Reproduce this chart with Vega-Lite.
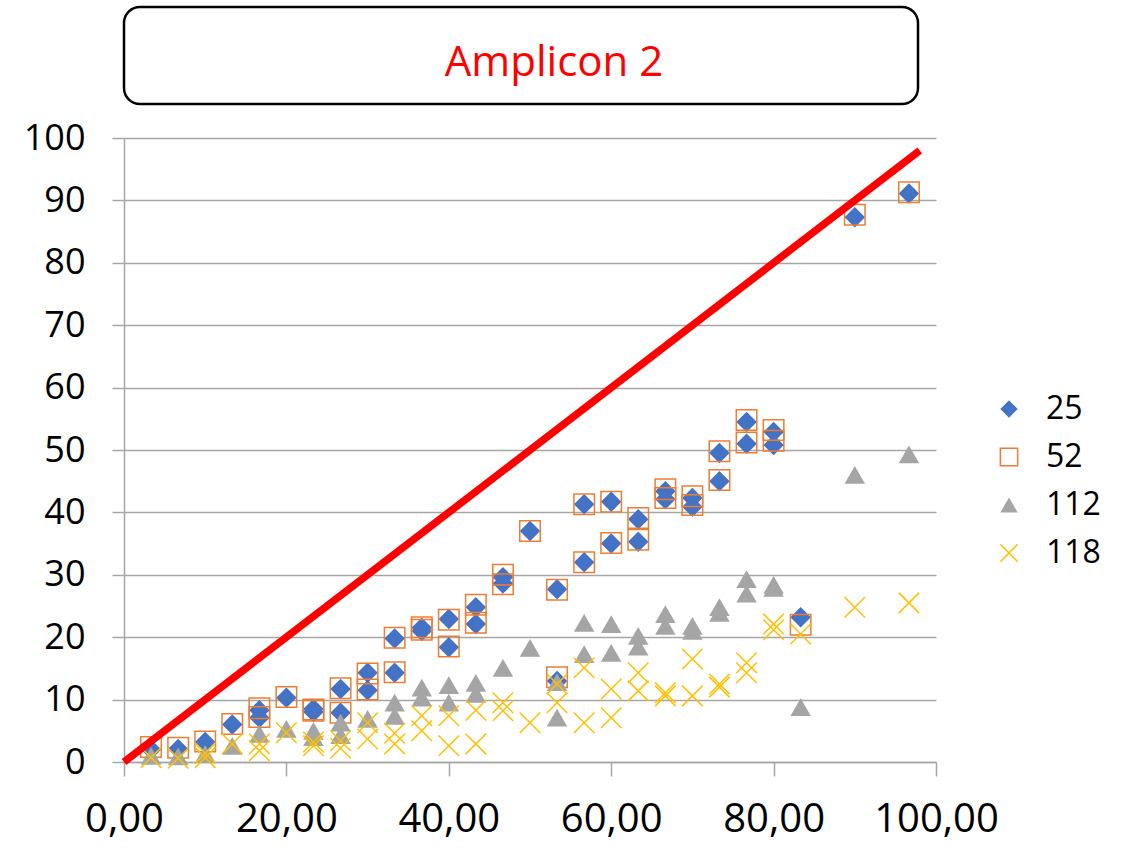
{
  "$schema": "https://vega.github.io/schema/vega-lite/v6.json",
  "padding": {"left": 23, "top": 5, "right": 0, "bottom": 10},
  "background": "white",
  "bounds": "flush",
  "spacing": 34,
  "datasets": {
    "heading": [{"label": "Amplicon 2"}],
    "ref": [{"x": 0, "y": 0}, {"x": 98, "y": 98}],
    "points": [
      {"s": "25", "x": 3.33, "y": 2.0}, {"s": "25", "x": 6.67, "y": 2.1}, {"s": "25", "x": 10, "y": 3.2},
      {"s": "25", "x": 13.33, "y": 6.0}, {"s": "25", "x": 16.67, "y": 8.3}, {"s": "25", "x": 16.67, "y": 7.1},
      {"s": "25", "x": 20, "y": 10.3}, {"s": "25", "x": 23.33, "y": 8.5}, {"s": "25", "x": 23.33, "y": 8.0},
      {"s": "25", "x": 26.67, "y": 11.7}, {"s": "25", "x": 26.67, "y": 7.9}, {"s": "25", "x": 30, "y": 14.3},
      {"s": "25", "x": 30, "y": 11.5}, {"s": "25", "x": 33.33, "y": 19.8}, {"s": "25", "x": 33.33, "y": 14.3},
      {"s": "25", "x": 36.67, "y": 21.5}, {"s": "25", "x": 36.67, "y": 21.0}, {"s": "25", "x": 40, "y": 22.9},
      {"s": "25", "x": 40, "y": 18.4}, {"s": "25", "x": 43.33, "y": 24.8}, {"s": "25", "x": 43.33, "y": 22.1},
      {"s": "25", "x": 46.67, "y": 29.6}, {"s": "25", "x": 46.67, "y": 28.6}, {"s": "25", "x": 50, "y": 37.0},
      {"s": "25", "x": 53.33, "y": 27.7}, {"s": "25", "x": 53.33, "y": 13.0}, {"s": "25", "x": 56.67, "y": 41.3},
      {"s": "25", "x": 56.67, "y": 32.0}, {"s": "25", "x": 60, "y": 41.7}, {"s": "25", "x": 60, "y": 35.0},
      {"s": "25", "x": 63.33, "y": 38.9}, {"s": "25", "x": 63.33, "y": 35.3}, {"s": "25", "x": 66.67, "y": 43.4},
      {"s": "25", "x": 66.67, "y": 42.1}, {"s": "25", "x": 70, "y": 42.3}, {"s": "25", "x": 70, "y": 40.9},
      {"s": "25", "x": 73.33, "y": 49.5}, {"s": "25", "x": 73.33, "y": 45.0}, {"s": "25", "x": 76.67, "y": 54.5},
      {"s": "25", "x": 76.67, "y": 51.0}, {"s": "25", "x": 80, "y": 52.9}, {"s": "25", "x": 80, "y": 50.8},
      {"s": "25", "x": 83.33, "y": 23.2}, {"s": "25", "x": 90, "y": 87.3}, {"s": "25", "x": 96.67, "y": 91.1},

      {"s": "52", "x": 3.33, "y": 2.4}, {"s": "52", "x": 6.67, "y": 2.3}, {"s": "52", "x": 10, "y": 3.3},
      {"s": "52", "x": 13.33, "y": 6.1}, {"s": "52", "x": 16.67, "y": 8.6}, {"s": "52", "x": 16.67, "y": 7.2},
      {"s": "52", "x": 20, "y": 10.4}, {"s": "52", "x": 23.33, "y": 8.4}, {"s": "52", "x": 23.33, "y": 8.2},
      {"s": "52", "x": 26.67, "y": 11.8}, {"s": "52", "x": 26.67, "y": 7.9}, {"s": "52", "x": 30, "y": 14.2},
      {"s": "52", "x": 30, "y": 11.6}, {"s": "52", "x": 33.33, "y": 19.9}, {"s": "52", "x": 33.33, "y": 14.4},
      {"s": "52", "x": 36.67, "y": 21.6}, {"s": "52", "x": 36.67, "y": 21.2}, {"s": "52", "x": 40, "y": 22.8},
      {"s": "52", "x": 40, "y": 18.5}, {"s": "52", "x": 43.33, "y": 25.2}, {"s": "52", "x": 43.33, "y": 22.3},
      {"s": "52", "x": 46.67, "y": 30.0}, {"s": "52", "x": 46.67, "y": 28.5}, {"s": "52", "x": 50, "y": 37.0},
      {"s": "52", "x": 53.33, "y": 27.6}, {"s": "52", "x": 53.33, "y": 13.6}, {"s": "52", "x": 56.67, "y": 41.3},
      {"s": "52", "x": 56.67, "y": 32.0}, {"s": "52", "x": 60, "y": 41.7}, {"s": "52", "x": 60, "y": 35.1},
      {"s": "52", "x": 63.33, "y": 39.1}, {"s": "52", "x": 63.33, "y": 35.6}, {"s": "52", "x": 66.67, "y": 43.7},
      {"s": "52", "x": 66.67, "y": 42.3}, {"s": "52", "x": 70, "y": 42.6}, {"s": "52", "x": 70, "y": 41.2},
      {"s": "52", "x": 73.33, "y": 49.8}, {"s": "52", "x": 73.33, "y": 45.2}, {"s": "52", "x": 76.67, "y": 54.8},
      {"s": "52", "x": 76.67, "y": 51.2}, {"s": "52", "x": 80, "y": 53.2}, {"s": "52", "x": 80, "y": 51.5},
      {"s": "52", "x": 83.33, "y": 22.0}, {"s": "52", "x": 90, "y": 87.7}, {"s": "52", "x": 96.67, "y": 91.3},

      {"s": "112", "x": 3.33, "y": 1.0}, {"s": "112", "x": 6.67, "y": 0.9}, {"s": "112", "x": 10, "y": 1.3},
      {"s": "112", "x": 13.33, "y": 2.6}, {"s": "112", "x": 16.67, "y": 4.5}, {"s": "112", "x": 20, "y": 5.3},
      {"s": "112", "x": 23.33, "y": 5.0}, {"s": "112", "x": 23.33, "y": 4.0}, {"s": "112", "x": 26.67, "y": 6.3},
      {"s": "112", "x": 26.67, "y": 4.3}, {"s": "112", "x": 30, "y": 6.9}, {"s": "112", "x": 33.33, "y": 9.5},
      {"s": "112", "x": 33.33, "y": 7.4}, {"s": "112", "x": 36.67, "y": 11.9}, {"s": "112", "x": 36.67, "y": 10.3},
      {"s": "112", "x": 40, "y": 12.3}, {"s": "112", "x": 40, "y": 9.5}, {"s": "112", "x": 43.33, "y": 12.7},
      {"s": "112", "x": 43.33, "y": 10.9}, {"s": "112", "x": 46.67, "y": 15.1}, {"s": "112", "x": 50, "y": 18.3},
      {"s": "112", "x": 53.33, "y": 12.8}, {"s": "112", "x": 53.33, "y": 7.1}, {"s": "112", "x": 56.67, "y": 22.3},
      {"s": "112", "x": 56.67, "y": 17.3}, {"s": "112", "x": 60, "y": 22.1}, {"s": "112", "x": 60, "y": 17.5},
      {"s": "112", "x": 63.33, "y": 20.2}, {"s": "112", "x": 63.33, "y": 18.5}, {"s": "112", "x": 66.67, "y": 23.7},
      {"s": "112", "x": 66.67, "y": 21.8}, {"s": "112", "x": 70, "y": 21.8}, {"s": "112", "x": 70, "y": 21.0},
      {"s": "112", "x": 73.33, "y": 24.8}, {"s": "112", "x": 73.33, "y": 23.9}, {"s": "112", "x": 76.67, "y": 29.3},
      {"s": "112", "x": 76.67, "y": 27.0}, {"s": "112", "x": 80, "y": 28.4}, {"s": "112", "x": 80, "y": 27.9},
      {"s": "112", "x": 83.33, "y": 8.8}, {"s": "112", "x": 90, "y": 46.0}, {"s": "112", "x": 96.67, "y": 49.3},

      {"s": "118", "x": 3.33, "y": 0.7}, {"s": "118", "x": 6.67, "y": 0.6}, {"s": "118", "x": 10, "y": 1.4},
      {"s": "118", "x": 10, "y": 0.7}, {"s": "118", "x": 13.33, "y": 2.9}, {"s": "118", "x": 16.67, "y": 2.9},
      {"s": "118", "x": 16.67, "y": 1.8}, {"s": "118", "x": 20, "y": 4.7}, {"s": "118", "x": 23.33, "y": 3.2},
      {"s": "118", "x": 23.33, "y": 2.6}, {"s": "118", "x": 26.67, "y": 3.4}, {"s": "118", "x": 26.67, "y": 2.2},
      {"s": "118", "x": 30, "y": 6.3}, {"s": "118", "x": 30, "y": 3.7}, {"s": "118", "x": 33.33, "y": 4.6},
      {"s": "118", "x": 33.33, "y": 2.9}, {"s": "118", "x": 36.67, "y": 7.4}, {"s": "118", "x": 36.67, "y": 5.0},
      {"s": "118", "x": 40, "y": 7.4}, {"s": "118", "x": 40, "y": 2.6}, {"s": "118", "x": 43.33, "y": 8.3},
      {"s": "118", "x": 43.33, "y": 2.9}, {"s": "118", "x": 46.67, "y": 9.5}, {"s": "118", "x": 46.67, "y": 8.2},
      {"s": "118", "x": 50, "y": 6.3}, {"s": "118", "x": 53.33, "y": 12.5}, {"s": "118", "x": 53.33, "y": 9.5},
      {"s": "118", "x": 56.67, "y": 15.1}, {"s": "118", "x": 56.67, "y": 6.3}, {"s": "118", "x": 60, "y": 11.7},
      {"s": "118", "x": 60, "y": 7.1}, {"s": "118", "x": 63.33, "y": 14.3}, {"s": "118", "x": 63.33, "y": 11.4},
      {"s": "118", "x": 66.67, "y": 11.1}, {"s": "118", "x": 66.67, "y": 10.6}, {"s": "118", "x": 70, "y": 16.5},
      {"s": "118", "x": 70, "y": 10.6}, {"s": "118", "x": 73.33, "y": 12.5}, {"s": "118", "x": 73.33, "y": 12.0},
      {"s": "118", "x": 76.67, "y": 15.9}, {"s": "118", "x": 76.67, "y": 14.3}, {"s": "118", "x": 80, "y": 22.1},
      {"s": "118", "x": 80, "y": 21.2}, {"s": "118", "x": 83.33, "y": 20.5}, {"s": "118", "x": 90, "y": 24.8},
      {"s": "118", "x": 96.67, "y": 25.5}
    ]
  },
  "vconcat": [
    {
      "width": 794,
      "height": 97,
      "data": {"name": "heading"},
      "view": {"stroke": "#000000", "strokeWidth": 2.5, "cornerRadius": 16, "fill": "white"},
      "mark": {"type": "text", "color": "#FF0000", "font": "Open Sans", "fontSize": 42, "baseline": "middle", "align": "center", "dx": 33, "dy": 7},
      "encoding": {"text": {"field": "label", "type": "nominal"}}
    },
    {
      "width": 812,
      "height": 624,
      "view": {"stroke": null},
      "layer": [
        {
          "data": {"name": "points"},
          "mark": {"type": "point", "opacity": 1, "size": 420, "strokeWidth": 1.5},
          "encoding": {
            "x": {
              "field": "x", "type": "quantitative",
              "scale": {"domain": [0, 100], "nice": false, "zero": true},
              "axis": {
                "title": null, "values": [0, 20, 40, 60, 80, 100], "grid": false,
                "labelExpr": "replace(format(datum.value, '.2f'), '.', ',')",
                "labelFont": "Open Sans", "labelFontSize": 40, "labelColor": "#000000",
                "labelPadding": 23, "tickSize": 14, "labelFlush": false
              }
            },
            "y": {
              "field": "y", "type": "quantitative",
              "scale": {"domain": [0, 100], "nice": false},
              "axis": {
                "title": null, "values": [0, 10, 20, 30, 40, 50, 60, 70, 80, 90, 100], "grid": true,
                "labelFont": "Open Sans", "labelFontSize": 36, "labelColor": "#000000",
                "labelPadding": 27, "tickSize": 12, "labelFlush": false
              }
            },
            "shape": {
              "field": "s", "type": "nominal",
              "scale": {"domain": ["25", "52", "112", "118"], "range": ["diamond", "square", "triangle-up", "M-1,-1L1,1M-1,1L1,-1"]},
              "legend": {"title": null}
            },
            "fill": {
              "field": "s", "type": "nominal",
              "scale": {"domain": ["25", "52", "112", "118"], "range": ["#4472C4", "transparent", "#A5A5A5", "transparent"]},
              "legend": {"title": null}
            },
            "stroke": {
              "field": "s", "type": "nominal",
              "scale": {"domain": ["25", "52", "112", "118"], "range": ["transparent", "#ED7D31", "transparent", "#FFC000"]},
              "legend": {"title": null}
            }
          }
        },
        {
          "data": {"name": "ref"},
          "mark": {"type": "line", "color": "#FF0000", "strokeWidth": 7.5, "strokeCap": "butt"},
          "encoding": {
            "x": {"field": "x", "type": "quantitative"},
            "y": {"field": "y", "type": "quantitative"}
          }
        }
      ]
    }
  ],
  "config": {
    "view": {"stroke": null},
    "axis": {
      "domainColor": "#A6A6A6", "domainWidth": 1.5,
      "gridColor": "#A6A6A6", "gridWidth": 1.5,
      "tickColor": "#A6A6A6", "tickWidth": 1.5
    },
    "legend": {
      "orient": "none", "legendX": 869, "legendY": 386,
      "padding": 0, "labelFont": "Open Sans", "labelFontSize": 32, "labelColor": "#000000",
      "symbolSize": 300, "symbolStrokeWidth": 1.5, "rowPadding": 16, "labelOffset": 21
    }
  }
}
